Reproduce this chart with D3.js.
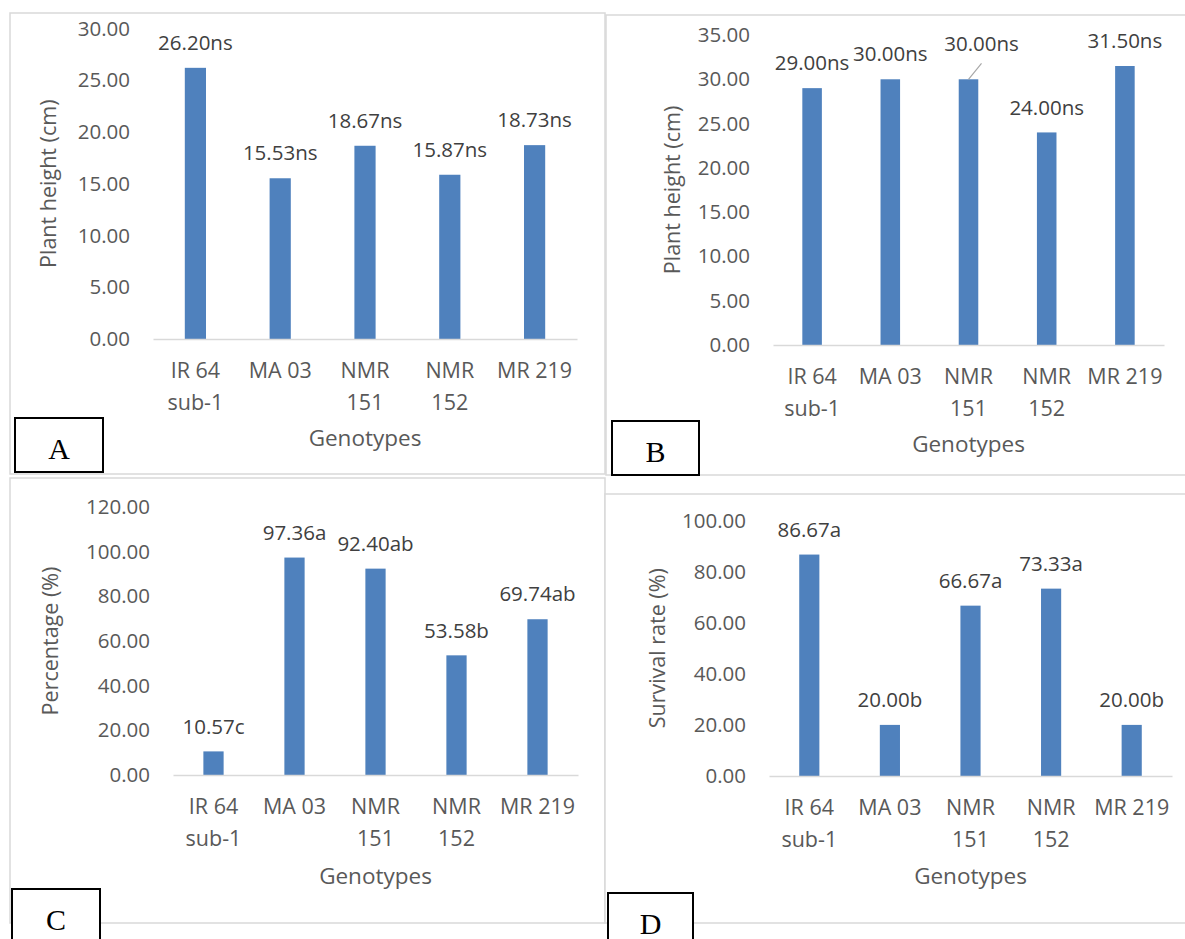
<!DOCTYPE html>
<html>
<head>
<meta charset="utf-8">
<script src="https://cdn.jsdelivr.net/npm/d3@7"></script>
<style>
  body { margin: 0; background: #fff; }
  svg { display: block; font-family: "Open Sans", sans-serif; }
</style>
</head>
<body>
<div id="chart"></div>
<script>
"use strict";

// categories (line breaks as in the original axis)
const genotypes = ["IR 64 sub-1", "MA 03", "NMR 151", "NMR 152", "MR 219"];
const genotypeLines = [["IR 64", "sub-1"], ["MA 03"], ["NMR", "151"], ["NMR", "152"], ["MR 219"]];

// panel A – plant height
const heightA = [26.20, 15.53, 18.67, 15.87, 18.73];
const lettersA = ["ns", "ns", "ns", "ns", "ns"];
// panel B – plant height
const heightB = [29.00, 30.00, 30.00, 24.00, 31.50];
const lettersB = ["ns", "ns", "ns", "ns", "ns"];
// panel C – percentage
const percentC = [10.57, 97.36, 92.40, 53.58, 69.74];
const lettersC = ["c", "a", "ab", "b", "ab"];
// panel D – survival rate
const survivalD = [86.67, 20.00, 66.67, 73.33, 20.00];
const lettersD = ["a", "b", "a", "a", "b"];

// y axis ticks
const ticksA = [0, 5, 10, 15, 20, 25, 30];
const ticksB = [0, 5, 10, 15, 20, 25, 30, 35];
const ticksC = [0, 20, 40, 60, 80, 100, 120];
const ticksD = [0, 20, 40, 60, 80, 100];

const panels = [
  { tag: "A", values: heightA, letters: lettersA, ticks: ticksA, yTitle: "Plant height (cm)",
    frame: [10, 13, 595, 461], plot: [153, 577, 28.5, 339], yTitleX: 48, catY: 370, xTitleY: 438,
    box: [15, 418, 88, 54] },
  { tag: "B", values: heightB, letters: lettersB, ticks: ticksB, yTitle: "Plant height (cm)",
    frame: [606, 15, 590, 460], plot: [773, 1164, 35, 345], yTitleX: 672, catY: 376, xTitleY: 444,
    box: [612, 421, 87, 54], nudge: { 2: [13, -10] } },
  { tag: "C", values: percentC, letters: lettersC, ticks: ticksC, yTitle: "Percentage (%)",
    frame: [10, 478, 595, 445], plot: [173, 578, 507, 775], yTitleX: 50, catY: 806, xTitleY: 876,
    box: [12, 889, 88, 60] },
  { tag: "D", values: survivalD, letters: lettersD, ticks: ticksD, yTitle: "Survival rate (%)",
    frame: [605, 494, 590, 429], plot: [769, 1172, 520.5, 776], yTitleX: 657, catY: 807, xTitleY: 876,
    box: [608, 893, 85, 60] }
];

const width = 1185;
const height = 939;
const barColor = "#4f81bd";
const fmt = d3.format(".2f");

const svg = d3.select("#chart")
  .append("svg")
  .attr("width", width)
  .attr("height", height);

panels.forEach(p => {
  const [x0, x1, yTop, yBase] = p.plot;
  const g = svg.append("g");

  g.append("rect")
    .attr("x", p.frame[0]).attr("y", p.frame[1])
    .attr("width", p.frame[2]).attr("height", p.frame[3])
    .attr("fill", "#fff")
    .attr("stroke", "#d9d9d9")
    .attr("stroke-width", 1.5);

  const x = d3.scaleBand()
    .domain(genotypes)
    .range([x0, x1])
    .paddingInner(0.75)
    .paddingOuter(0.375);

  const y = d3.scaleLinear()
    .domain([0, d3.max(p.ticks)])
    .range([yBase, yTop]);

  // y axis labels
  const yAxis = d3.axisLeft(y)
    .tickValues(p.ticks)
    .tickSize(0)
    .tickPadding(23)
    .tickFormat(fmt);

  g.append("g")
    .attr("transform", `translate(${x0},0)`)
    .call(yAxis)
    .call(a => a.select(".domain").remove())
    .selectAll("text")
    .attr("fill", "#595959")
    .style("font-size", "20.5px")
    .style("font-family", "'Open Sans', sans-serif");

  // bars
  g.selectAll("rect.bar")
    .data(p.values)
    .enter()
    .append("rect")
    .attr("class", "bar")
    .attr("x", (d, i) => x(genotypes[i]))
    .attr("y", d => y(d))
    .attr("width", x.bandwidth())
    .attr("height", d => yBase - y(d))
    .attr("fill", barColor);

  // x axis line and category labels
  const xAxis = d3.axisBottom(x).tickSize(0).tickSizeOuter(0).tickFormat("");
  const xg = g.append("g")
    .attr("transform", `translate(0,${yBase})`)
    .call(xAxis);
  xg.select(".domain").attr("stroke", "#d9d9d9").attr("stroke-width", 1.5);

  xg.selectAll(".tick")
    .append("text")
    .attr("fill", "#595959")
    .attr("text-anchor", "middle")
    .style("font-size", "21.5px")
    .style("font-family", "'Open Sans', sans-serif")
    .each(function(d) {
      const lines = genotypeLines[genotypes.indexOf(d)];
      d3.select(this).selectAll("tspan")
        .data(lines)
        .enter()
        .append("tspan")
        .attr("x", 0)
        .attr("y", (l, j) => p.catY - yBase + j * 32)
        .attr("dy", "0.35em")
        .text(l => l);
    });

  // data labels
  const nudge = p.nudge || {};
  g.selectAll("text.val")
    .data(p.values)
    .enter()
    .append("text")
    .attr("class", "val")
    .attr("x", (d, i) => x(genotypes[i]) + x.bandwidth() / 2 + (nudge[i] ? nudge[i][0] : 0))
    .attr("y", (d, i) => y(d) - 25 + (nudge[i] ? nudge[i][1] : 0))
    .attr("dy", "0.35em")
    .attr("text-anchor", "middle")
    .attr("fill", "#404040")
    .style("font-size", "20.5px")
    .text((d, i) => fmt(d) + p.letters[i]);

  // leader lines for moved labels
  Object.keys(nudge).forEach(k => {
    const i = +k;
    const cx = x(genotypes[i]) + x.bandwidth() / 2;
    g.append("line")
      .attr("x1", cx).attr("y1", y(p.values[i]))
      .attr("x2", cx + nudge[i][0]).attr("y2", y(p.values[i]) + nudge[i][1] - 6)
      .attr("stroke", "#a6a6a6")
      .attr("stroke-width", 1.2);
  });

  // axis titles
  g.append("text")
    .attr("x", (x0 + x1) / 2)
    .attr("y", p.xTitleY)
    .attr("dy", "0.35em")
    .attr("text-anchor", "middle")
    .attr("fill", "#595959")
    .style("font-size", "22.5px")
    .text("Genotypes");

  g.append("text")
    .attr("transform", `translate(${p.yTitleX},${(yTop + yBase) / 2}) rotate(-90)`)
    .attr("dy", "0.35em")
    .attr("text-anchor", "middle")
    .attr("fill", "#595959")
    .style("font-size", "21.5px")
    .text(p.yTitle);
});

// panel letter boxes drawn last so they sit over the frames
panels.forEach(p => {
  const [bx, by, bw, bh] = p.box;
  svg.append("rect")
    .attr("x", bx).attr("y", by)
    .attr("width", bw).attr("height", bh)
    .attr("fill", "#fff")
    .attr("stroke", "#000")
    .attr("stroke-width", 2);
  svg.append("text")
    .attr("x", bx + bw / 2)
    .attr("y", by + 41)
    .attr("text-anchor", "middle")
    .attr("fill", "#000")
    .style("font-family", "'Liberation Serif', 'Times New Roman', serif")
    .style("font-size", "30px")
    .text(p.tag);
});
</script>
</body>
</html>
